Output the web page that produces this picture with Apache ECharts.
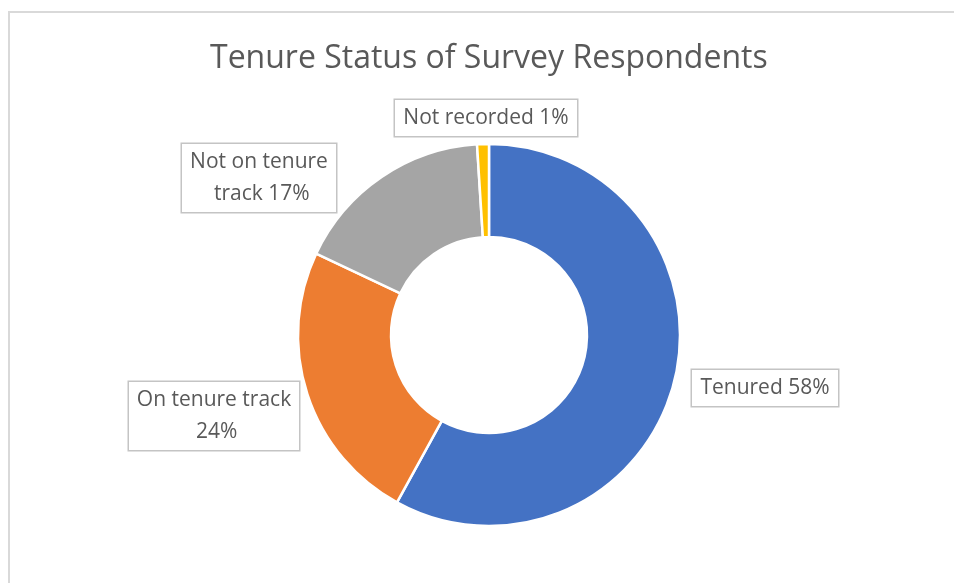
<!DOCTYPE html>
<html>
<head>
<meta charset="utf-8">
<script src="https://cdn.jsdelivr.net/npm/echarts@6/dist/echarts.min.js"></script>
<style>
html,body{margin:0;padding:0;background:#fff;}
#chart{width:954px;height:583px;}
</style>
</head>
<body>
<div id="chart"></div>
<script>
var categories = ['Tenured', 'On tenure track', 'Not on tenure track', 'Not recorded'];
var values = [58, 24, 17, 1];
var colors = ['#4472C4', '#ED7D31', '#A5A5A5', '#FFC000'];
var titleText = 'Tenure Status of Survey Respondents';

// label box placement (layout only)
var labelPos = [
  {x: 765, y: 388, w: 134},
  {x: 214, y: 416, w: 158},
  {x: 259, y: 178, w: 142},
  {x: 486, y: 118, w: 170}
];

var FONT = '"Open Sans", "Noto Sans", sans-serif';
var chart = echarts.init(document.getElementById('chart'));

var data = categories.map(function (c, i) {
  return {
    name: c,
    value: values[i],
    itemStyle: {color: colors[i]},
    label: {width: labelPos[i].w}
  };
});

chart.setOption({
  animation: false,
  graphic: [{
    type: 'rect',
    shape: {x: 9, y: 12, width: 1000, height: 700},
    style: {fill: 'none', stroke: '#d9d9d9', lineWidth: 2},
    silent: true,
    z: -1
  }],
  title: {
    text: titleText,
    left: 205,
    top: 38,
    textStyle: {fontFamily: FONT, fontSize: 32, fontWeight: 'normal', color: '#595959'}
  },
  series: [{
    type: 'pie',
    center: [489, 335],
    radius: [98, 191],
    startAngle: 90,
    clockwise: true,
    avoidLabelOverlap: false,
    itemStyle: {borderColor: '#fff', borderWidth: 2.5},
    labelLine: {show: false},
    label: {
      show: true,
      position: 'outside',
      formatter: '{b} {d}%',
      overflow: 'break',
      fontFamily: FONT,
      fontSize: 21,
      lineHeight: 32,
      color: '#595959',
      backgroundColor: '#fff',
      borderColor: '#c4c4c4',
      borderWidth: 1.5,
      padding: [2, 6],
      align: 'center'
    },
    labelLayout: function (p) {
      var lp = labelPos[p.dataIndex];
      return {x: lp.x, y: lp.y, align: 'center', verticalAlign: 'middle'};
    },
    emphasis: {disabled: true},
    data: data
  }]
});
</script>
</body>
</html>
